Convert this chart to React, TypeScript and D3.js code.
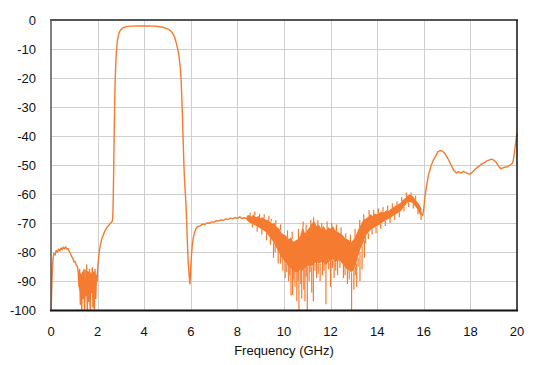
import React, { useEffect, useRef } from 'react';
import * as d3 from 'd3';

// measured trace: [GHz, dB]
const trace: [number, number][] = [
  [0, -100], [0.02, -96], [0.04, -90], [0.06, -86], [0.09, -82], [0.13, -80.5], [0.18, -81], [0.22, -79.5],
  [0.28, -80], [0.33, -79], [0.38, -79.6], [0.43, -78.6], [0.48, -79.2], [0.53, -78.3], [0.58, -78.9],
  [0.63, -78.2], [0.68, -79], [0.73, -78.8], [0.78, -79.8], [0.83, -80.3], [0.88, -81.5], [0.93, -82],
  [0.98, -83.4], [1.03, -83.2], [1.08, -84.5], [1.13, -85], [1.17, -87],
  [1.2, -92], [1.23, -86], [1.26, -98], [1.29, -88], [1.32, -100], [1.35, -87], [1.38, -96], [1.41, -86],
  [1.44, -100], [1.47, -89], [1.5, -95], [1.53, -84.5], [1.56, -100], [1.59, -87], [1.62, -97], [1.65, -86],
  [1.68, -100], [1.71, -88], [1.74, -94], [1.77, -85.5], [1.8, -99], [1.83, -87], [1.86, -100], [1.89, -86],
  [1.92, -96], [1.95, -88], [1.98, -90],
  [2.0, -86], [2.03, -83], [2.07, -80], [2.12, -77.5], [2.18, -75.5], [2.25, -74], [2.32, -72.6], [2.4, -71.5],
  [2.48, -70.8], [2.56, -70], [2.62, -69.5], [2.65, -68.5],
  [2.67, -62], [2.69, -52], [2.71, -40], [2.73, -30], [2.75, -22], [2.78, -15], [2.81, -10.5], [2.85, -7],
  [2.9, -5], [2.97, -3.6], [3.05, -2.9], [3.15, -2.5], [3.3, -2.2], [3.5, -2.1], [3.8, -2.05], [4.1, -2.05],
  [4.4, -2.1], [4.6, -2.25], [4.8, -2.5], [4.95, -2.9], [5.1, -3.5], [5.2, -4.3], [5.3, -5.8], [5.38, -8],
  [5.45, -10.5], [5.5, -13], [5.55, -16.5], [5.58, -20], [5.61, -26], [5.64, -33], [5.67, -41], [5.7, -49],
  [5.73, -55], [5.76, -59], [5.79, -63], [5.82, -69], [5.85, -76], [5.88, -82], [5.91, -86], [5.94, -89],
  [5.96, -91], [5.98, -88.5], [6.0, -85], [6.03, -81], [6.06, -78], [6.1, -75.5], [6.15, -73.5], [6.22, -72],
  [6.3, -71.2], [6.4, -71], [6.5, -70.4], [6.6, -70.5], [6.7, -70], [6.8, -70.1], [6.9, -69.6], [7.0, -69.7],
  [7.1, -69.2], [7.2, -69.3], [7.3, -68.9], [7.4, -69.1], [7.5, -68.6], [7.6, -68.8], [7.7, -68.3],
  [7.8, -68.6], [7.9, -68.1], [8.0, -68.4], [8.1, -67.9], [8.2, -68.5], [8.3, -68.2],
  [8.5, -68.8], [9.0, -70.5], [9.5, -73], [10.0, -78], [10.5, -80.5], [11.0, -79], [11.5, -77], [12.0, -77],
  [12.5, -78], [13.0, -80], [13.3, -75], [13.5, -71], [14.0, -69.5], [14.5, -67.5], [15.0, -64.5],
  [15.3, -61.5], [15.5, -61.5], [15.8, -65.5], [15.95, -67.5],
  [16.0, -65], [16.05, -61], [16.12, -57], [16.2, -53.5], [16.3, -50.5], [16.4, -48.5], [16.5, -47],
  [16.6, -45.5], [16.7, -45], [16.8, -45.2], [16.9, -46], [17.0, -47.3], [17.1, -48.8], [17.2, -50.5],
  [17.3, -52], [17.4, -52.8], [17.5, -52.3], [17.6, -52.8], [17.7, -52.2], [17.8, -52.6], [17.9, -53],
  [18.0, -53.1], [18.1, -52.3], [18.2, -51.5], [18.3, -50.8], [18.4, -50.2], [18.5, -49.6], [18.6, -49.2],
  [18.7, -48.6], [18.8, -48.3], [18.9, -48], [19.0, -48.3], [19.1, -49], [19.2, -50.3], [19.3, -51.3],
  [19.4, -51], [19.5, -50.7], [19.6, -50.6], [19.7, -50], [19.8, -49.5], [19.85, -48], [19.9, -45],
  [19.95, -42], [20.0, -39],
];

// noisy band: [GHz, upper dB, lower dB]
const noiseBand: [number, number, number][] = [
  [8.4, -67.5, -69], [8.5, -67.2, -69.8], [8.6, -67.8, -70.2], [8.7, -67.0, -70.5], [8.8, -68.0, -71.0],
  [8.9, -67.6, -71.5], [9.0, -68.3, -72.0], [9.1, -68.0, -72.4], [9.2, -68.8, -73.0], [9.3, -69.0, -74.0],
  [9.4, -69.5, -75.0], [9.5, -70.3, -76.0], [9.6, -70.0, -77.5], [9.7, -71.5, -79.0], [9.8, -72.0, -80.5],
  [9.9, -73.5, -82.0], [10.0, -74.0, -83.0], [10.1, -74.5, -84.0], [10.2, -75.5, -85.0], [10.3, -75.0, -85.5],
  [10.4, -76.5, -86.5], [10.5, -76.0, -87.0], [10.6, -75.5, -87.0], [10.7, -74.5, -86.0], [10.8, -71.0, -86.5],
  [10.9, -73.5, -85.5], [11.0, -72.5, -85.0], [11.1, -71.5, -84.5], [11.2, -70.0, -85.0], [11.3, -69.5, -84.0],
  [11.4, -71.0, -83.5], [11.5, -70.5, -84.0], [11.6, -72.0, -83.5], [11.7, -71.0, -84.0], [11.8, -72.5, -84.5],
  [11.9, -71.5, -83.5], [12.0, -72.0, -83.0], [12.1, -71.0, -82.5], [12.2, -72.5, -83.5], [12.3, -73.0, -83.0],
  [12.4, -73.5, -83.0], [12.5, -74.0, -84.0], [12.6, -75.0, -85.0], [12.7, -75.5, -86.0], [12.8, -76.0, -86.5],
  [12.9, -76.5, -87.0], [13.0, -75.5, -86.0], [13.1, -74.0, -84.0], [13.2, -72.0, -81.0], [13.3, -70.5, -78.5],
  [13.4, -69.0, -77.0], [13.5, -68.5, -74.5], [13.6, -68.0, -73.5], [13.7, -67.0, -72.5], [13.8, -67.5, -72.0],
  [13.9, -66.8, -71.5], [14.0, -67.0, -71.0], [14.1, -66.5, -70.5], [14.2, -66.0, -70.0], [14.3, -66.3, -69.5],
  [14.4, -65.5, -69.0], [14.5, -65.8, -68.5], [14.6, -65.0, -68.0], [14.7, -64.5, -67.5], [14.8, -64.0, -67.0],
  [14.9, -63.5, -66.5], [15.0, -63.0, -66.0], [15.1, -62.0, -65.0], [15.2, -61.5, -64.0], [15.3, -60.5, -63.0],
  [15.4, -60.2, -62.8], [15.5, -60.5, -63.0], [15.6, -61.5, -64.0], [15.7, -62.5, -65.0], [15.8, -63.5, -66.5],
  [15.9, -65.0, -68.0],
];

// dense band in the 1.2–1.95 GHz dip
const lowBand: [number, number, number][] = [
  [1.2, -87, -93], [1.3, -87.5, -94], [1.4, -86.5, -93], [1.5, -86, -94], [1.6, -87, -95],
  [1.7, -87, -93], [1.8, -87.5, -94], [1.9, -87.5, -92],
];

// spikes off the band: [GHz, from dB, to dB]
const spikes: [number, number, number][] = [
  [9.55, -77, -82], [9.75, -79, -84], [9.95, -82, -86.5], [10.05, -83, -89], [10.2, -84, -90],
  [10.3, -85, -95], [10.37, -85, -94.8], [10.47, -86, -92], [10.55, -86, -97], [10.64, -86, -100],
  [10.72, -86, -91], [10.76, -86, -96], [10.85, -86, -93], [10.9, -85, -97], [11.0, -85, -100],
  [11.08, -84, -90], [11.19, -85, -94], [11.26, -84, -97], [11.4, -83, -89], [11.55, -84, -90],
  [11.65, -83, -88], [11.8, -84, -98], [12.0, -83, -92], [12.15, -83, -89], [12.3, -83, -88],
  [12.55, -84, -89], [12.72, -86, -91], [12.9, -87, -100], [13.0, -86, -93], [13.12, -84, -92],
  [13.26, -80, -90], [13.35, -78, -86], [13.45, -76, -82],
  // short spikes below
  [8.65, -70.2, -71.5], [8.85, -71.2, -73], [9.05, -72, -74], [9.25, -73.5, -76], [9.42, -74.5, -77.5],
  [9.62, -77.5, -80], [9.85, -81, -84], [10.12, -84, -87], [10.25, -85.2, -88], [10.42, -86.5, -89.5],
  [10.6, -87, -90], [10.95, -85.3, -88.5], [11.12, -84.5, -87], [11.33, -84, -86.5], [11.47, -84, -87.5],
  [11.72, -84, -86.5], [11.92, -83.5, -86], [12.08, -82.8, -85.5], [12.22, -83.5, -86.5], [12.4, -83, -85.5],
  [12.62, -85, -88], [12.8, -86.5, -89.5], [13.06, -85, -88], [13.18, -82, -85], [13.5, -74.5, -77],
  [13.62, -73.5, -75.5], [13.78, -72, -74], [13.95, -71.3, -73.5], [14.15, -70.3, -72], [14.35, -69.3, -71],
  [14.55, -68.3, -70], [14.75, -67.3, -69], [14.95, -66.3, -68], [15.15, -64.5, -66], [15.35, -62.9, -64.5],
  [15.55, -63.5, -65], [15.75, -65.5, -67], [15.88, -67.5, -69],
  // short spikes above
  [8.55, -67.5, -66.5], [8.75, -67.2, -66], [8.95, -68, -66.8], [9.15, -68.2, -67], [9.35, -69.2, -67.5],
  [9.45, -69.5, -68.5], [9.65, -70.5, -69], [9.85, -72.5, -70.5], [10.15, -75, -72.5], [10.35, -75.5, -73],
  [10.62, -75.5, -72], [10.82, -71.5, -69.5], [10.95, -73, -70.5], [11.15, -71, -69], [11.27, -69.8, -68],
  [11.45, -70.8, -69], [11.62, -71.8, -70], [11.85, -72, -69.5], [12.05, -71.5, -70], [12.25, -72.8, -70.5],
  [12.45, -73.8, -71.5], [12.65, -75.2, -73.5], [12.85, -76.2, -74], [13.05, -75, -72], [13.25, -71.5, -69],
  [13.42, -69, -67], [13.65, -67.5, -65.5], [13.85, -67.2, -65.5], [14.05, -66.8, -65], [14.25, -66, -64.5],
  [14.45, -65.6, -64], [14.65, -64.8, -63.2], [14.85, -63.8, -62.5], [15.05, -62.5, -61], [15.25, -61, -59.5],
  [15.45, -60.3, -59.5], [15.65, -62, -60.5],
];

const xTicks = [0, 2, 4, 6, 8, 10, 12, 14, 16, 18, 20];
const yTicks = [0, -10, -20, -30, -40, -50, -60, -70, -80, -90, -100];

const W = 537;
const H = 365;
const ORANGE = '#F47B2F';

export default function App() {
  const svgRef = useRef<SVGSVGElement>(null);

  useEffect(() => {
    const svg = d3.select(svgRef.current);
    svg.selectAll('*').remove();

    const x = d3.scaleLinear().domain([0, 20]).range([51, 517]);
    const y = d3.scaleLinear().domain([-100, 0]).range([310, 20]);
    const font = 'Liberation Sans, Arial, sans-serif';

    // grid
    const grid = svg.append('g').attr('stroke', '#cfcfcf').attr('stroke-width', 1);
    xTicks.slice(1, -1).forEach(t => {
      const px = Math.round(x(t)) + 0.5;
      grid.append('line').attr('x1', px).attr('x2', px).attr('y1', 20).attr('y2', 310);
    });
    yTicks.slice(1, -1).forEach(t => {
      const py = Math.round(y(t)) + 0.5;
      grid.append('line').attr('x1', 51).attr('x2', 517).attr('y1', py).attr('y2', py);
    });

    // data
    const plot = svg.append('g');
    const band = d3.area<[number, number, number]>()
      .x(d => x(d[0]))
      .y0(d => y(d[2]))
      .y1(d => y(d[1]));

    plot.append('path').datum(noiseBand).attr('fill', ORANGE).attr('d', band);
    plot.append('path').datum(lowBand).attr('fill', ORANGE).attr('opacity', 0.85).attr('d', band);

    plot.selectAll('line.spike')
      .data(spikes)
      .enter()
      .append('line')
      .attr('class', 'spike')
      .attr('x1', d => x(d[0]))
      .attr('x2', d => x(d[0]))
      .attr('y1', d => y(d[1]))
      .attr('y2', d => y(d[2]))
      .attr('stroke', ORANGE)
      .attr('stroke-width', 1.2);

    plot.append('path')
      .datum(trace)
      .attr('fill', 'none')
      .attr('stroke', ORANGE)
      .attr('stroke-width', 1.4)
      .attr('stroke-linejoin', 'round')
      .attr('d', d3.line<[number, number]>().x(d => x(d[0])).y(d => y(d[1])));

    // frame
    svg.append('line').attr('x1', 50).attr('x2', 518).attr('y1', 20).attr('y2', 20)
      .attr('stroke', '#555').attr('stroke-width', 2);
    svg.append('line').attr('x1', 51).attr('x2', 51).attr('y1', 20).attr('y2', 310)
      .attr('stroke', '#555').attr('stroke-width', 1.5);
    svg.append('line').attr('x1', 517).attr('x2', 517).attr('y1', 20).attr('y2', 311)
      .attr('stroke', '#111').attr('stroke-width', 1.5);
    svg.append('line').attr('x1', 50).attr('x2', 518).attr('y1', 310.5).attr('y2', 310.5)
      .attr('stroke', '#111').attr('stroke-width', 2);

    // tick labels
    svg.append('g').selectAll('text')
      .data(yTicks)
      .enter()
      .append('text')
      .attr('x', 36)
      .attr('y', d => y(d))
      .attr('dy', '0.35em')
      .attr('text-anchor', 'end')
      .attr('font-family', font)
      .attr('font-size', 13)
      .attr('fill', '#111')
      .text(d => d);

    svg.append('g').selectAll('text')
      .data(xTicks)
      .enter()
      .append('text')
      .attr('x', d => x(d))
      .attr('y', 331)
      .attr('dy', '0.35em')
      .attr('text-anchor', 'middle')
      .attr('font-family', font)
      .attr('font-size', 13)
      .attr('fill', '#111')
      .text(d => d);

    svg.append('text')
      .attr('x', 284)
      .attr('y', 350)
      .attr('dy', '0.35em')
      .attr('text-anchor', 'middle')
      .attr('font-family', font)
      .attr('font-size', 13)
      .attr('fill', '#111')
      .text('Frequency (GHz)');
  }, []);

  return (
    <svg ref={svgRef} width={W} height={H}
      style={{ position: 'absolute', left: 0, top: 0, background: '#fff' }} />
  );
}
